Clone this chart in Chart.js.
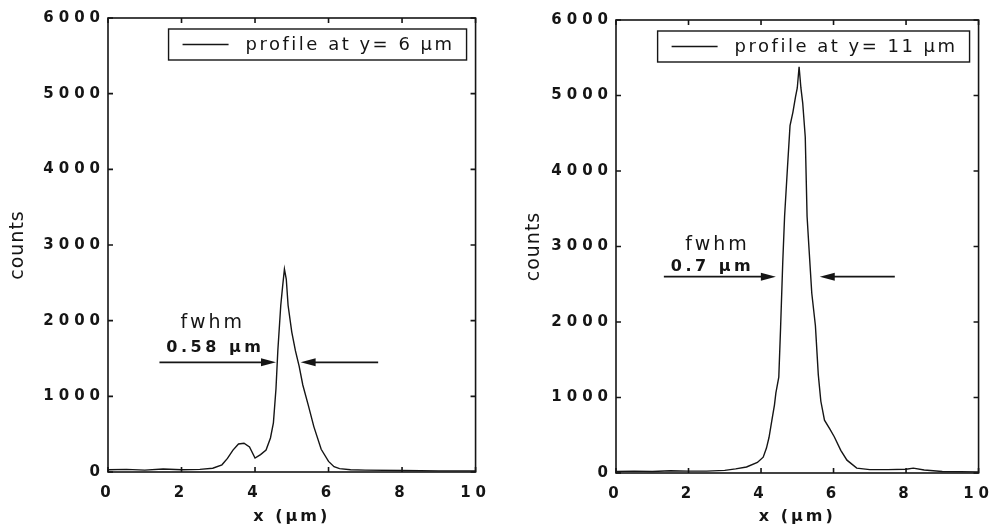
<!DOCTYPE html>
<html>
<head>
<meta charset="utf-8">
<script src="https://cdn.jsdelivr.net/npm/chart.js@4.4.0/dist/chart.umd.min.js"></script>
<style>
    html, body { margin: 0; padding: 0; background: #fff; }
    .panel { position: absolute; top: 0; width: 503px; height: 531px; }
    #leftPanel { left: 0; }
    #rightPanel { left: 503px; }
</style>
</head>
<body>
<div class="panel" id="leftPanel"><canvas id="chartLeft" width="503" height="531"></canvas></div>
<div class="panel" id="rightPanel"><canvas id="chartRight" width="503" height="531"></canvas></div>
<script>
// profile at y = 6 um
const xLeft = [0, 0.5, 1, 1.5, 2, 2.5, 2.85, 3.1, 3.25, 3.4, 3.55, 3.7, 3.85, 4.0, 4.15, 4.3, 4.42, 4.5, 4.57, 4.62, 4.7, 4.75, 4.8, 4.85, 4.9, 5.0, 5.1, 5.2, 5.3, 5.45, 5.6, 5.8, 6.0, 6.15, 6.3, 6.6, 7, 8, 9, 10];
const countsLeft = [30, 35, 25, 40, 30, 35, 50, 95, 180, 290, 370, 380, 330, 185, 230, 290, 450, 650, 1100, 1600, 2200, 2450, 2680, 2550, 2200, 1850, 1600, 1400, 1150, 880, 600, 300, 140, 70, 45, 30, 25, 20, 15, 15];

// profile at y = 11 um
const xRight = [0, 0.5, 1, 1.5, 2, 2.5, 3, 3.3, 3.6, 3.9, 4.06, 4.15, 4.22, 4.3, 4.37, 4.41, 4.49, 4.54, 4.6, 4.65, 4.73, 4.8, 4.88, 4.95, 5.0, 5.05, 5.1, 5.15, 5.22, 5.27, 5.32, 5.4, 5.5, 5.58, 5.65, 5.75, 5.9, 6.02, 6.2, 6.37, 6.64, 7, 7.5, 8, 8.2, 8.5, 9, 10];
const countsRight = [20, 25, 20, 30, 25, 25, 35, 55, 80, 140, 210, 330, 470, 700, 900, 1060, 1270, 1930, 2800, 3400, 4050, 4600, 4780, 4980, 5100, 5380, 5100, 4900, 4450, 3400, 3000, 2380, 1950, 1300, 950, 700, 580, 480, 300, 170, 65, 45, 45, 50, 65, 40, 20, 15];

const xTicks = [0, 2, 4, 6, 8, 10];
const yTicks = [0, 1000, 2000, 3000, 4000, 5000, 6000];

const legendLeft = 'profile at y= 6 µm';
const legendRight = 'profile at y= 11 µm';

// fwhm annotations (data units)
const fwhmLeft = { lines: ['fwhm', '0.58 µm'], textX: [2.85, 2.92], textY: [1970, 1640], arrowY: 1450, tails: [1.4, 7.35], heads: [4.57, 5.24] };
const fwhmRight = { lines: ['fwhm', '0.7 µm'], textX: [2.8, 2.66], textY: [3020, 2730], arrowY: 2600, tails: [1.32, 7.69], heads: [4.41, 5.62] };

const ink = '#151515';
const fontFamily = '"DejaVu Sans", sans-serif';
const tickSpacing = '5px';

function points(xs, ys) {
    return xs.map((x, i) => ({ x: x, y: ys[i] }));
}

// letter spacing: ticks use the context default, titles get their own
const spacingPlugin = {
    id: 'spacing',
    beforeUpdate(chart) { chart.ctx.letterSpacing = tickSpacing; },
    beforeLayout(chart) { chart.ctx.letterSpacing = tickSpacing; },
    afterLayout(chart) {
        [['x', '3px'], ['y', '1px']].forEach(([id, sp]) => {
            const scale = chart.scales[id];
            if (scale._spaced) return;
            const orig = scale.drawTitle;
            scale.drawTitle = function() {
                chart.ctx.letterSpacing = sp;
                orig.call(this);
                chart.ctx.letterSpacing = tickSpacing;
            };
            scale._spaced = true;
        });
    },
    beforeDraw(chart) { chart.ctx.letterSpacing = tickSpacing; }
};

function framePlugin(legendText, fwhm) {
    return {
        id: 'frame',
        afterDatasetsDraw(chart) {
            const ctx = chart.ctx;
            const a = chart.chartArea;
            const xs = chart.scales.x, ys = chart.scales.y;
            ctx.save();
            ctx.strokeStyle = ink;
            ctx.lineWidth = 1.6;
            ctx.strokeRect(a.left, a.top, a.right - a.left, a.bottom - a.top);
            ctx.beginPath();
            xTicks.forEach(v => {
                const px = xs.getPixelForValue(v);
                ctx.moveTo(px, a.bottom); ctx.lineTo(px, a.bottom - 5);
                ctx.moveTo(px, a.top); ctx.lineTo(px, a.top + 5);
            });
            yTicks.forEach(v => {
                const py = ys.getPixelForValue(v);
                ctx.moveTo(a.left, py); ctx.lineTo(a.left + 5, py);
                ctx.moveTo(a.right, py); ctx.lineTo(a.right - 5, py);
            });
            ctx.stroke();

            // fwhm arrows
            const ay = ys.getPixelForValue(fwhm.arrowY);
            ctx.fillStyle = ink;
            ctx.lineWidth = 1.8;
            fwhm.tails.forEach((t, i) => {
                const tx = xs.getPixelForValue(t);
                const hx = xs.getPixelForValue(fwhm.heads[i]);
                const dir = hx > tx ? 1 : -1;
                ctx.beginPath();
                ctx.moveTo(tx, ay); ctx.lineTo(hx - dir * 10, ay);
                ctx.stroke();
                ctx.beginPath();
                ctx.moveTo(hx, ay);
                ctx.lineTo(hx - dir * 15, ay - 4);
                ctx.lineTo(hx - dir * 15, ay + 4);
                ctx.closePath();
                ctx.fill();
            });

            ctx.textAlign = 'center';
            ctx.textBaseline = 'middle';
            fwhm.lines.forEach((line, i) => {
                ctx.font = i === 0 ? '19px ' + fontFamily : 'bold 16px ' + fontFamily;
                ctx.letterSpacing = i === 0 ? '3px' : '3.5px';
                ctx.fillText(line, xs.getPixelForValue(fwhm.textX[i]), ys.getPixelForValue(fwhm.textY[i]));
            });

            // legend box
            ctx.font = '18px ' + fontFamily;
            ctx.letterSpacing = '2.5px';
            const tw = ctx.measureText(legendText).width;
            const bw = 14 + 46 + 17 + tw + 12;
            const bh = 31;
            const bx = a.right - 9 - bw;
            const by = a.top + 11;
            ctx.fillStyle = '#fff';
            ctx.fillRect(bx, by, bw, bh);
            ctx.lineWidth = 1.4;
            ctx.strokeRect(bx, by, bw, bh);
            ctx.beginPath();
            ctx.lineWidth = 1.3;
            ctx.moveTo(bx + 14, by + bh / 2); ctx.lineTo(bx + 60, by + bh / 2);
            ctx.stroke();
            ctx.fillStyle = ink;
            ctx.textAlign = 'left';
            ctx.fillText(legendText, bx + 77, by + bh / 2 + 1);
            ctx.restore();
        }
    };
}

function makeChart(id, xs, ys, label, fwhm, box) {
    const tickFont = { family: fontFamily, size: 15, weight: 'bold' };
    return new Chart(document.getElementById(id), {
        type: 'line',
        data: {
            datasets: [{
                label: label,
                data: points(xs, ys),
                borderColor: ink,
                borderWidth: 1.4,
                pointRadius: 0,
                tension: 0,
                fill: false
            }]
        },
        options: {
            responsive: false,
            animation: false,
            layout: { padding: { left: 0, top: box.top, right: box.right, bottom: 0 } },
            plugins: {
                legend: { display: false },
                tooltip: { enabled: false }
            },
            scales: {
                x: {
                    type: 'linear',
                    min: 0, max: 10,
                    grid: { display: false, drawTicks: false },
                    border: { display: false },
                    afterFit: s => { s.height = box.xHeight; },
                    ticks: { stepSize: 2, color: ink, font: tickFont, padding: 12, maxRotation: 0, callback: v => String(v) },
                    title: { display: true, text: 'x (µm)', color: ink, font: { family: fontFamily, size: 16, weight: 'bold' }, padding: { top: 0, bottom: 5 } }
                },
                y: {
                    min: 0, max: 6000,
                    grid: { display: false, drawTicks: false },
                    border: { display: false },
                    afterFit: s => { s.width = box.yWidth; },
                    ticks: { stepSize: 1000, color: ink, font: tickFont, padding: 3, callback: v => String(v) },
                    title: { display: true, text: 'counts', color: ink, font: { family: fontFamily, size: 19 }, padding: { top: box.titlePad, bottom: 0 } }
                }
            }
        },
        plugins: [spacingPlugin, framePlugin(label, fwhm)]
    });
}

makeChart('chartLeft', xLeft, countsLeft, legendLeft, fwhmLeft,
    { top: 18, right: 25, xHeight: 59, yWidth: 108, titlePad: 7 });
makeChart('chartRight', xRight, countsRight, legendRight, fwhmRight,
    { top: 20, right: 18, xHeight: 58, yWidth: 113, titlePad: 20 });
</script>
</body>
</html>
